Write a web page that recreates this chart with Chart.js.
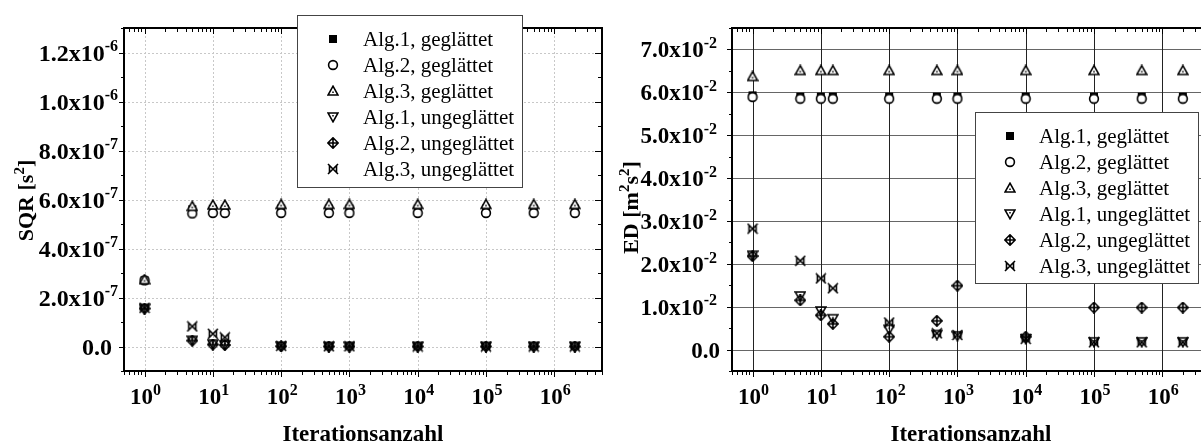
<!DOCTYPE html>
<html lang="de">
<head>
  <meta charset="UTF-8">
  <title>SQR und ED über Iterationsanzahl</title>
  <script src="https://cdn.jsdelivr.net/npm/chart.js"></script>
  <style>
    html, body {
      margin: 0;
      padding: 0;
      background: #fff;
      overflow: hidden;
    }
    .wrap {
      position: relative;
      width: 1201px;
      height: 445px;
      overflow: hidden;
    }
    .panel {
      position: absolute;
      top: 0;
      width: 610px;
      height: 445px;
    }
    #left { left: 0; }
    #right { left: 608px; }
  </style>
</head>
<body>
  <div class="wrap">
    <div class="panel" id="left"><canvas id="sqrChart" width="610" height="445"></canvas></div>
    <div class="panel" id="right"><canvas id="edChart" width="610" height="445"></canvas></div>
  </div>

  <script>
    const SERIF = "'Liberation Serif', 'Times New Roman', serif";

    const iterations = [1, 5, 10, 15, 100, 500, 1000, 10000, 100000, 500000, 2000000];
    const seriesNames = [
      'Alg.1, geglättet', 'Alg.2, geglättet', 'Alg.3, geglättet',
      'Alg.1, ungeglättet', 'Alg.2, ungeglättet', 'Alg.3, ungeglättet'
    ];

    // SQR [s^2]
    const sqrAlg1Smooth = [2.70e-7, 5.60e-7, 5.62e-7, 5.62e-7, 5.63e-7, 5.63e-7, 5.63e-7, 5.63e-7, 5.63e-7, 5.63e-7, 5.63e-7];
    const sqrAlg2Smooth = [2.70e-7, 5.43e-7, 5.45e-7, 5.45e-7, 5.45e-7, 5.45e-7, 5.45e-7, 5.45e-7, 5.45e-7, 5.45e-7, 5.45e-7];
    const sqrAlg3Smooth = [2.73e-7, 5.72e-7, 5.78e-7, 5.78e-7, 5.80e-7, 5.80e-7, 5.80e-7, 5.80e-7, 5.80e-7, 5.80e-7, 5.80e-7];
    const sqrAlg1Raw = [1.55e-7, 0.25e-7, 0.10e-7, 0.07e-7, 0.01e-7, 0, 0, 0, 0, 0, 0];
    const sqrAlg2Raw = [1.55e-7, 0.24e-7, 0.08e-7, 0.06e-7, 0.01e-7, 0, 0, 0, 0, 0, 0];
    const sqrAlg3Raw = [1.58e-7, 0.82e-7, 0.52e-7, 0.37e-7, 0.03e-7, 0.01e-7, 0.01e-7, 0, 0, 0, 0];

    // ED [m^2 s^2]
    const edAlg1Smooth = [5.93e-2, 5.90e-2, 5.90e-2, 5.90e-2, 5.90e-2, 5.90e-2, 5.90e-2, 5.90e-2, 5.90e-2, 5.90e-2, 5.90e-2];
    const edAlg2Smooth = [5.89e-2, 5.85e-2, 5.85e-2, 5.85e-2, 5.85e-2, 5.85e-2, 5.85e-2, 5.85e-2, 5.85e-2, 5.85e-2, 5.85e-2];
    const edAlg3Smooth = [6.37e-2, 6.51e-2, 6.51e-2, 6.51e-2, 6.51e-2, 6.51e-2, 6.51e-2, 6.51e-2, 6.51e-2, 6.51e-2, 6.51e-2];
    const edAlg1Raw = [2.20e-2, 1.25e-2, 0.90e-2, 0.72e-2, 0.47e-2, 0.35e-2, 0.32e-2, 0.25e-2, 0.18e-2, 0.18e-2, 0.18e-2];
    const edAlg2Raw = [2.18e-2, 1.15e-2, 0.80e-2, 0.60e-2, 0.30e-2, 0.67e-2, 1.49e-2, 0.30e-2, 0.98e-2, 0.98e-2, 0.98e-2];
    const edAlg3Raw = [2.82e-2, 2.07e-2, 1.66e-2, 1.43e-2, 0.63e-2, 0.38e-2, 0.34e-2, 0.25e-2, 0.17e-2, 0.17e-2, 0.17e-2];

    // axis ticks and their labels (base text, superscript)
    const decadeTicks = [1, 10, 100, 1000, 10000, 100000, 1000000];
    const decadeLabels = [['10', '0'], ['10', '1'], ['10', '2'], ['10', '3'], ['10', '4'], ['10', '5'], ['10', '6']];
    const sqrTicks = [0, 2e-7, 4e-7, 6e-7, 8e-7, 1e-6, 1.2e-6];
    const sqrTickLabels = [['0.0', ''], ['2.0x10', '-7'], ['4.0x10', '-7'], ['6.0x10', '-7'], ['8.0x10', '-7'], ['1.0x10', '-6'], ['1.2x10', '-6']];
    const edTicks = [0, 0.01, 0.02, 0.03, 0.04, 0.05, 0.06, 0.07];
    const edTickLabels = [['0.0', ''], ['1.0x10', '-2'], ['2.0x10', '-2'], ['3.0x10', '-2'], ['4.0x10', '-2'], ['5.0x10', '-2'], ['6.0x10', '-2'], ['7.0x10', '-2']];

    // marker images, used as pointStyle and in the legend
    function makeSymbol(kind) {
      const size = 12;
      const c = document.createElement('canvas');
      c.width = size;
      c.height = size;
      const g = c.getContext('2d');
      const m = size / 2;
      g.strokeStyle = '#000';
      g.fillStyle = '#fff';
      g.lineWidth = 1.6;
      g.beginPath();
      if (kind === 'square') {
        g.fillStyle = '#000';
        g.fillRect(2, 2, 8, 8);
        return c;
      }
      if (kind === 'circle') {
        g.arc(m, m, 4.4, 0, Math.PI * 2);
        g.fill();
        g.stroke();
      } else if (kind === 'up') {
        g.moveTo(m, 1.2);
        g.lineTo(m + 5, 10);
        g.lineTo(m - 5, 10);
        g.closePath();
        g.fill();
        g.stroke();
        g.fillStyle = '#000';
        g.fillRect(m - 0.75, 6.5, 1.5, 1.5);
      } else if (kind === 'down') {
        g.moveTo(m, 10.8);
        g.lineTo(m + 5, 2);
        g.lineTo(m - 5, 2);
        g.closePath();
        g.stroke();
        g.fillStyle = '#000';
        g.fillRect(m - 0.75, 4, 1.5, 1.5);
      } else if (kind === 'diamond') {
        g.moveTo(m, 0.8);
        g.lineTo(11.2, m);
        g.lineTo(m, 11.2);
        g.lineTo(0.8, m);
        g.closePath();
        g.moveTo(m, 0.8);
        g.lineTo(m, 11.2);
        g.moveTo(0.8, m);
        g.lineTo(11.2, m);
        g.stroke();
      } else if (kind === 'bowtie') {
        g.moveTo(1, 1);
        g.lineTo(11, 11);
        g.moveTo(11, 1);
        g.lineTo(1, 11);
        g.moveTo(2.5, 2.5);
        g.lineTo(2.5, 9.5);
        g.moveTo(9.5, 2.5);
        g.lineTo(9.5, 9.5);
        g.stroke();
      }
      return c;
    }

    const symbols = ['square', 'circle', 'up', 'down', 'diamond', 'bowtie'].map(makeSymbol);

    // text with superscript parts: [[text, isSup], ...]
    function drawParts(ctx, parts, x, y, align, size) {
      const supSize = Math.round(size * 0.68);
      const widths = parts.map(([t, sup]) => {
        ctx.font = `bold ${sup ? supSize : size}px ${SERIF}`;
        return ctx.measureText(t).width;
      });
      const total = widths.reduce((a, b) => a + b, 0);
      let cx = align === 'right' ? x - total : align === 'center' ? x - total / 2 : x;
      ctx.textAlign = 'left';
      ctx.textBaseline = 'alphabetic';
      parts.forEach(([t, sup], i) => {
        ctx.font = `bold ${sup ? supSize : size}px ${SERIF}`;
        ctx.fillText(t, cx, sup ? y - size * 0.4 : y);
        cx += widths[i];
      });
    }

    function line(ctx, x1, y1, x2, y2) {
      ctx.beginPath();
      ctx.moveTo(x1, y1);
      ctx.lineTo(x2, y2);
      ctx.stroke();
    }

    function panelPlugin(p) {
      return {
        id: 'panel',
        beforeDatasetsDraw(chart) {
          const { ctx, chartArea: a, scales: { x, y } } = chart;
          ctx.save();
          ctx.lineWidth = 1;
          ctx.strokeStyle = p.gridYColor;
          ctx.setLineDash(p.gridDash);
          p.yTicks.forEach(v => {
            const py = Math.round(y.getPixelForValue(v)) + 0.5;
            line(ctx, a.left, py, a.right, py);
          });
          ctx.strokeStyle = p.gridXColor;
          decadeTicks.forEach(v => {
            const px = Math.round(x.getPixelForValue(v)) + 0.5;
            line(ctx, px, a.top, px, a.bottom);
          });
          ctx.restore();
        },
        afterDatasetsDraw(chart) {
          const { ctx, chartArea: a, scales: { x, y } } = chart;
          ctx.save();
          ctx.strokeStyle = '#000';
          ctx.fillStyle = '#000';

          // log ticks on bottom (outward) and top (inward)
          ctx.lineWidth = 1;
          for (let e = -1; e <= 7; e++) {
            for (let k = 1; k <= 9; k++) {
              const v = k * Math.pow(10, e);
              if (v < x.min || v > x.max) continue;
              const px = Math.round(x.getPixelForValue(v)) + 0.5;
              const len = k === 1 ? 6 : 4;
              line(ctx, px, a.bottom, px, a.bottom + len);
              line(ctx, px, a.top, px, a.top + len);
            }
          }
          // linear ticks on left (outward) and right (inward)
          for (let v = p.yMin; v <= p.yMax + p.minorStep / 2; v += p.minorStep) {
            const py = Math.round(y.getPixelForValue(v)) + 0.5;
            const major = Math.abs(v / p.majorStep - Math.round(v / p.majorStep)) < 1e-6;
            line(ctx, a.left - (major ? 5 : 3), py, a.left, py);
            line(ctx, a.right - (major ? 7 : 4), py, a.right, py);
          }

          // frame
          ctx.lineWidth = 2;
          ctx.strokeRect(a.left, a.top, a.right - a.left, a.bottom - a.top);

          // tick labels
          decadeTicks.forEach((v, i) => {
            const [b, s] = decadeLabels[i];
            drawParts(ctx, [[b, false], [s, true]], x.getPixelForValue(v) + 1, 404, 'center', 23);
          });
          p.yTicks.forEach((v, i) => {
            const [b, s] = p.yLabels[i];
            const py = y.getPixelForValue(v) + 8;
            if (s) drawParts(ctx, [[b, false], [s, true]], a.left - p.labelGap, py, 'right', p.labelSize);
            else drawParts(ctx, [[b, false]], a.left - 12, py, 'right', p.labelSize);
          });

          // axis titles
          drawParts(ctx, [['Iterationsanzahl', false]], (a.left + a.right) / 2, 441, 'center', 23);
          ctx.save();
          ctx.translate(p.titleX, (a.top + a.bottom) / 2 + p.titleShift);
          ctx.rotate(-Math.PI / 2);
          drawParts(ctx, p.yTitle, 0, 0, 'center', 22);
          ctx.restore();

          // legend
          const L = p.legend;
          ctx.fillStyle = '#fff';
          ctx.fillRect(L.x, L.y, L.w, L.h);
          ctx.lineWidth = 1;
          ctx.strokeStyle = '#444';
          ctx.strokeRect(L.x + 0.5, L.y + 0.5, L.w, L.h);
          ctx.fillStyle = '#000';
          ctx.font = `21px ${SERIF}`;
          ctx.textAlign = 'left';
          ctx.textBaseline = 'middle';
          seriesNames.forEach((name, i) => {
            const ry = L.y + 24 + i * 26;
            const img = symbols[i];
            ctx.drawImage(img, Math.round(L.x + L.symX - img.width / 2), Math.round(ry - img.height / 2));
            ctx.fillText(name, L.x + L.textX, ry + 1);
          });
          ctx.restore();
        }
      };
    }

    function buildChart(canvasId, series, p) {
      return new Chart(document.getElementById(canvasId), {
        type: 'scatter',
        data: {
          datasets: series.map((vals, i) => ({
            label: seriesNames[i],
            data: iterations.map((it, j) => ({ x: it, y: vals[j] })),
            pointStyle: symbols[i],
            pointRadius: 4,
            showLine: false,
            order: 6 - i
          }))
        },
        options: {
          responsive: false,
          animation: false,
          events: [],
          layout: { padding: { left: 0, top: 28, right: 8, bottom: 0 } },
          plugins: {
            legend: { display: false },
            tooltip: { enabled: false }
          },
          scales: {
            x: {
              type: 'logarithmic',
              min: 0.5,
              max: 5e6,
              ticks: { display: false },
              grid: { display: false },
              border: { display: false },
              afterFit: s => { s.height = 74; }
            },
            y: {
              type: 'linear',
              min: p.yMin,
              max: p.yMax,
              ticks: { display: false },
              grid: { display: false },
              border: { display: false },
              afterFit: s => { s.width = 124; }
            }
          }
        },
        plugins: [panelPlugin(p)]
      });
    }

    buildChart('sqrChart',
      [sqrAlg1Smooth, sqrAlg2Smooth, sqrAlg3Smooth, sqrAlg1Raw, sqrAlg2Raw, sqrAlg3Raw],
      {
        yMin: -1e-7, yMax: 1.3e-6, majorStep: 2e-7, minorStep: 1e-7,
        yTicks: sqrTicks, yLabels: sqrTickLabels, labelGap: 6, labelSize: 24,
        gridXColor: '#c8c8c8', gridYColor: '#c8c8c8', gridDash: [2, 2],
        yTitle: [['SQR [s', false], ['2', true], [']', false]], titleX: 33, titleShift: 1,
        legend: { x: 297, y: 15, w: 225, h: 172, symX: 36, textX: 66 }
      });

    buildChart('edChart',
      [edAlg1Smooth, edAlg2Smooth, edAlg3Smooth, edAlg1Raw, edAlg2Raw, edAlg3Raw],
      {
        yMin: -0.005, yMax: 0.075, majorStep: 0.01, minorStep: 0.005,
        yTicks: edTicks, yLabels: edTickLabels, labelGap: 15, labelSize: 23,
        gridXColor: '#222', gridYColor: '#666', gridDash: [],
        yTitle: [['ED [m', false], ['2', true], ['s', false], ['2', true], [']', false]], titleX: 30, titleShift: 8,
        legend: { x: 367, y: 112, w: 223, h: 171, symX: 35, textX: 64 }
      });
  </script>
</body>
</html>
